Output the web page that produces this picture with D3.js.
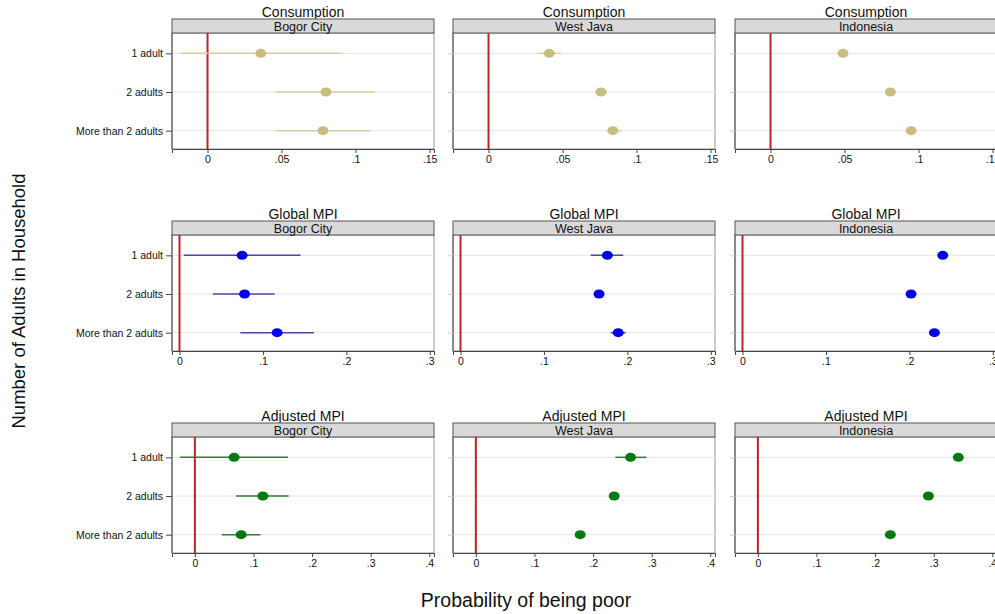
<!DOCTYPE html>
<html>
<head>
<meta charset="utf-8">
<script src="https://cdn.jsdelivr.net/npm/d3@7"></script>
<style>
  body { margin: 0; background: #fff; }
  svg { font-family: "Liberation Sans", Arial, sans-serif; display: block; }
</style>
</head>
<body>
<script>
// categories and panels
var categories = ["1 adult", "2 adults", "More than 2 adults"];
var regions = ["Bogor City", "West Java", "Indonesia"];
var measures = ["Consumption", "Global MPI", "Adjusted MPI"];

// point estimates, one array per region: [1 adult, 2 adults, more than 2]
var consumptionEst = [[0.036, 0.080, 0.078], [0.041, 0.076, 0.084], [0.049, 0.081, 0.095]];
var consumptionLo  = [[-0.018, 0.046, 0.046], [0.033, 0.072, 0.080], [0.048, 0.080, 0.094]];
var consumptionHi  = [[0.091, 0.113, 0.110], [0.049, 0.080, 0.090], [0.050, 0.082, 0.096]];

var globalEst = [[0.075, 0.078, 0.117], [0.176, 0.166, 0.189], [0.240, 0.202, 0.230]];
var globalLo  = [[0.005, 0.040, 0.073], [0.156, 0.160, 0.180], [0.238, 0.200, 0.228]];
var globalHi  = [[0.145, 0.114, 0.161], [0.195, 0.172, 0.198], [0.242, 0.204, 0.232]];

var adjustedEst = [[0.067, 0.116, 0.079], [0.264, 0.236, 0.178], [0.342, 0.291, 0.226]];
var adjustedLo  = [[-0.025, 0.070, 0.046], [0.238, 0.231, 0.174], [0.340, 0.289, 0.224]];
var adjustedHi  = [[0.159, 0.160, 0.112], [0.291, 0.241, 0.182], [0.344, 0.293, 0.228]];

// x axis ticks per row
var consumptionTicks = [0, 0.05, 0.1, 0.15];
var globalTicks = [0, 0.1, 0.2, 0.3];
var adjustedTicks = [0, 0.1, 0.2, 0.3, 0.4];

var rows = [
  {title: measures[0], est: consumptionEst, lo: consumptionLo, hi: consumptionHi, ticks: consumptionTicks,
   domain: [-0.024, 0.153], dot: "#c9be82", ci: "#d8cfa0"},
  {title: measures[1], est: globalEst, lo: globalLo, hi: globalHi, ticks: globalTicks,
   domain: [-0.009, 0.305], dot: "#0000e8", ci: "#4848a0"},
  {title: measures[2], est: adjustedEst, lo: adjustedLo, hi: adjustedHi, ticks: adjustedTicks,
   domain: [-0.039, 0.408], dot: "#007a10", ci: "#2e7e2e"}
];

var width = 995, height = 614;
var panelLeft = [172, 453, 735],
    panelW = 262,
    stripH = 14,
    plotH = 116;

var svg = d3.select("body").append("svg")
    .attr("width", width)
    .attr("height", height);

var fmt = function(d) { return d === 0 ? "0" : String(+d.toFixed(3)).replace(/^0/, ""); };

rows.forEach(function(row, ri) {
  var top = 19 + ri * 202;
  var plotTop = top + stripH;

  var y = d3.scalePoint()
      .domain(categories)
      .range([1, plotH + 1])
      .padding(0.5);

  regions.forEach(function(region, pi) {
    var g = svg.append("g")
        .attr("transform", "translate(" + panelLeft[pi] + "," + plotTop + ")");

    var x = d3.scaleLinear()
        .domain(row.domain)
        .range([0, panelW]);

    // title above strip
    svg.append("text")
        .attr("x", panelLeft[pi] + panelW / 2)
        .attr("y", top - 2)
        .attr("text-anchor", "middle")
        .style("font-size", "14px")
        .attr("fill", "#111")
        .text(row.title);

    // strip
    svg.append("rect")
        .attr("x", panelLeft[pi])
        .attr("y", top)
        .attr("width", panelW)
        .attr("height", stripH)
        .attr("fill", "#d9d9d9")
        .attr("stroke", "#555")
        .attr("stroke-width", 1);
    svg.append("text")
        .attr("x", panelLeft[pi] + panelW / 2)
        .attr("y", top + stripH / 2 + 4.5)
        .attr("text-anchor", "middle")
        .style("font-size", "12.5px")
        .attr("fill", "#111")
        .text(region);

    // plot frame
    g.append("rect")
        .attr("width", panelW)
        .attr("height", plotH)
        .attr("fill", "#fff")
        .attr("stroke", "#999")
        .attr("stroke-width", 1);

    // horizontal grid lines
    g.selectAll(".grid")
        .data(categories)
      .enter().append("line")
        .attr("x1", 0)
        .attr("x2", panelW)
        .attr("y1", function(d) { return y(d); })
        .attr("y2", function(d) { return y(d); })
        .attr("stroke", "#e4e4ec")
        .attr("stroke-width", 1);

    // reference line at zero
    g.append("line")
        .attr("x1", x(0))
        .attr("x2", x(0))
        .attr("y1", 0)
        .attr("y2", plotH)
        .attr("stroke", "#b82428")
        .attr("stroke-width", 2);

    // confidence intervals
    g.selectAll(".ci")
        .data(categories)
      .enter().append("line")
        .attr("x1", function(d, i) { return x(row.lo[pi][i]); })
        .attr("x2", function(d, i) { return x(row.hi[pi][i]); })
        .attr("y1", function(d) { return y(d); })
        .attr("y2", function(d) { return y(d); })
        .attr("stroke", row.ci)
        .attr("stroke-width", 1.5);

    // point estimates
    g.selectAll(".dot")
        .data(categories)
      .enter().append("ellipse")
        .attr("cx", function(d, i) { return x(row.est[pi][i]); })
        .attr("cy", function(d) { return y(d); })
        .attr("rx", 5.5)
        .attr("ry", 4.5)
        .attr("fill", row.dot);

    // x axis
    var xAxis = g.append("g")
        .attr("transform", "translate(0," + plotH + ")")
        .call(d3.axisBottom(x).tickValues(row.ticks).tickFormat(fmt).tickSize(4).tickPadding(3));
    xAxis.select(".domain").attr("stroke", "#444");
    xAxis.selectAll(".tick line").attr("stroke", "#444");
    xAxis.selectAll("text").style("font-size", "10.5px").attr("fill", "#111");

    // y axis
    var yAxis = g.append("g")
        .call(d3.axisLeft(y).tickSize(pi === 0 ? 6 : 5).tickPadding(3)
          .tickFormat(pi === 0 ? null : function() { return ""; }));
    yAxis.select(".domain").attr("stroke", "#444").attr("d", "M0,0V" + plotH);
    yAxis.selectAll(".tick line").attr("stroke", pi === 0 ? "#444" : "#ccc");
    yAxis.selectAll("text").style("font-size", "10.5px").attr("fill", "#111");
  });
});

// axis titles
svg.append("text")
    .attr("transform", "translate(25,301) rotate(-90)")
    .attr("text-anchor", "middle")
    .style("font-size", "18.5px")
    .attr("fill", "#111")
    .text("Number of Adults in Household");

svg.append("text")
    .attr("x", 526)
    .attr("y", 607)
    .attr("text-anchor", "middle")
    .style("font-size", "19.5px")
    .attr("fill", "#111")
    .text("Probability of being poor");
</script>
</body>
</html>
